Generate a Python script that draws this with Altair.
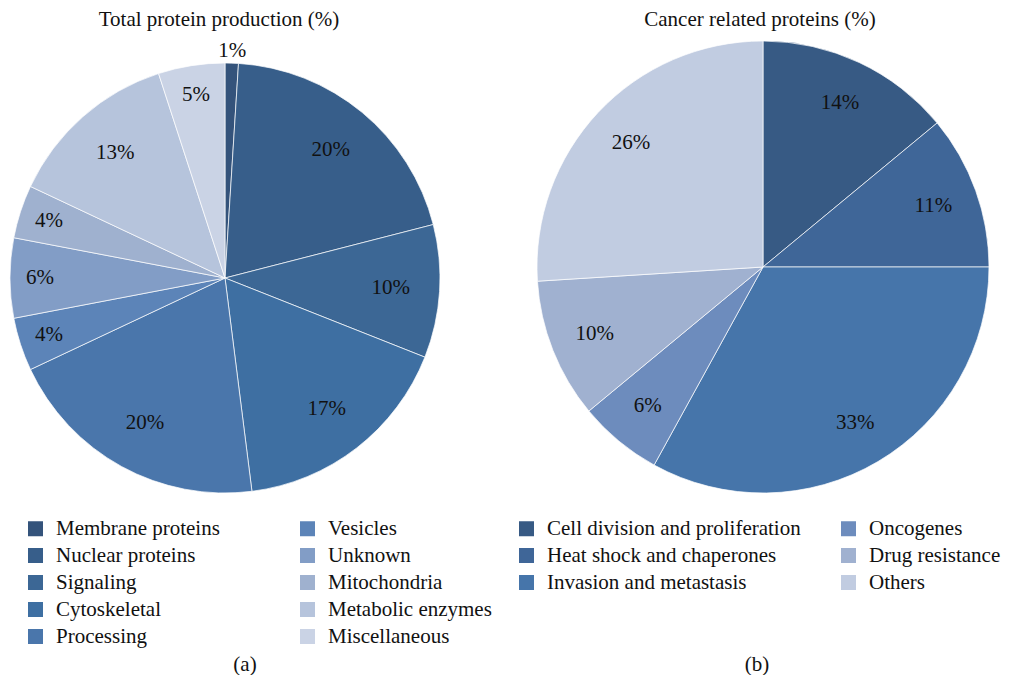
import altair as alt
import pandas as pd

# ---- data ----
total_cats = ["Membrane proteins", "Nuclear proteins", "Signaling", "Cytoskeletal",
              "Processing", "Vesicles", "Unknown", "Mitochondria",
              "Metabolic enzymes", "Miscellaneous"]
total_vals = [1, 20, 10, 17, 20, 4, 6, 4, 13, 5]
total_colors = ["#34537b", "#375e8a", "#3c6795", "#3e6fa2", "#4a76ab",
                "#5c84b8", "#829dc6", "#9fb1cf", "#b6c4dc", "#cad3e5"]

cancer_cats = ["Cell division and proliferation", "Heat shock and chaperones",
               "Invasion and metastasis", "Oncogenes", "Drug resistance", "Others"]
cancer_vals = [14, 11, 33, 6, 10, 26]
cancer_colors = ["#375a84", "#3f6698", "#4675aa", "#6d8cbd", "#a0b1d0", "#c1cce1"]

FONT = "Liberation Serif"
FS = 21


def make_pie(cats, vals, colors, title, title_dx, caption, W, H, R, label_expr,
             legend_x, legend_y, col_pad, cap_x, cap_y):
    df = pd.DataFrame({"cat": cats, "value": vals, "idx": list(range(len(cats)))})
    theta_scale = alt.Scale(domain=[0, 100])
    arcs = alt.Chart(df).mark_arc(radius=R, stroke="white", strokeWidth=0.7).encode(
        theta=alt.Theta("value:Q", stack=True, scale=theta_scale),
        order=alt.Order("idx:Q"),
        color=alt.Color("cat:N", scale=alt.Scale(domain=cats, range=colors),
                        legend=alt.Legend(title=None, orient="none",
                                          legendX=legend_x, legendY=legend_y,
                                          columns=2, columnPadding=col_pad,
                                          rowPadding=5,
                                          symbolType="square", symbolSize=225,
                                          symbolStrokeWidth=0, symbolOpacity=1,
                                          labelFont=FONT, labelFontSize=FS,
                                          labelColor="#111111", labelOffset=10,
                                          labelLimit=400)),
    )
    labels = alt.Chart(df).transform_window(
        cum="sum(value)", sort=[alt.SortField("idx")]
    ).transform_calculate(
        mid="datum.cum - datum.value / 2",
        pct="datum.value + '%'",
        lr=label_expr,
    ).mark_text(font=FONT, fontSize=FS, color="#111111").encode(
        theta=alt.Theta("mid:Q", stack=None, scale=theta_scale),
        radius=alt.Radius("lr:Q", scale=None),
        text="pct:N",
    )
    cap = alt.Chart(pd.DataFrame({"t": [caption]})).mark_text(
        font=FONT, fontSize=FS, color="#111111"
    ).encode(x=alt.value(cap_x), y=alt.value(cap_y), text="t:N")
    return alt.layer(arcs, labels, cap).properties(
        width=W, height=H,
        title=alt.Title(title, font=FONT, fontSize=FS, fontWeight="normal",
                        color="#111111", anchor="middle", offset=10, dx=title_dx),
    )


T = 41  # page y of the plot-area top
left = make_pie(total_cats, total_vals, total_colors, "Total protein production (%)", -6, "(a)",
                434, 2 * (277 - T), 215,
                "datum.value < 2 ? 227 : (datum.value < 10 ? 185 : 166)",
                17, 517 - T, 77, 237, 664 - T)
right = make_pie(cancer_cats, cancer_vals, cancer_colors, "Cancer related proteins (%)", -3, "(b)",
                 452, 2 * (266 - T), 226, "181",
                 -21, 517 - T, 37, 220, 664 - T)

chart = alt.hconcat(left, right, spacing=95).resolve_scale(
    color="independent", theta="independent"
).properties(
    padding=0, bounds="flush"
).configure_view(stroke=None)

chart.save("out.html", embed_options={"renderer": "svg", "actions": False})
